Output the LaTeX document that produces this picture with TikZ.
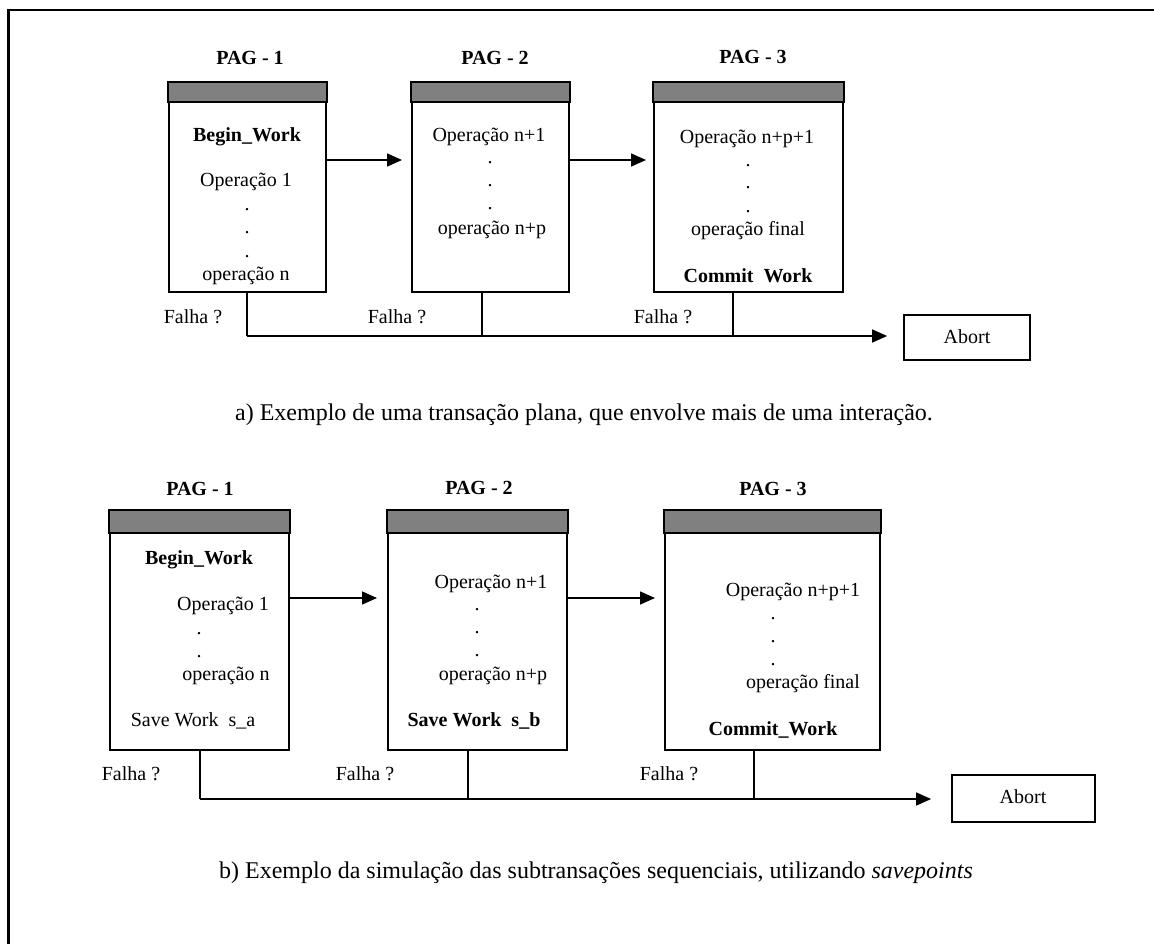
\documentclass[tikz,border=0pt]{standalone}
\usepackage{fontspec}
\setmainfont{Liberation Serif}
\usetikzlibrary{arrows.meta,calc}
\definecolor{headgray}{HTML}{808080}
\begin{document}
\begin{tikzpicture}[x=1pt,y=-1pt,
  pagebox/.style={draw,line width=2pt,rectangle,inner sep=0pt,minimum height=209pt},
  pageboxb/.style={draw,line width=2pt,rectangle,inner sep=0pt,minimum height=239pt},
  abortbox/.style={draw,line width=1.8pt,rectangle,inner sep=0pt},
  lbl/.style={anchor=base,inner sep=0pt,font=\fontsize{20}{24}\selectfont},
  blbl/.style={lbl,font=\fontsize{20}{24}\selectfont\bfseries},
  caption/.style={anchor=base,inner sep=0pt,font=\fontsize{24}{28}\selectfont},
  conn/.style={line width=1.6pt},
  arr/.style={line width=1.6pt,-{Triangle[length=15pt,width=13pt]}}
]
\useasboundingbox (0,0) rectangle (1154,944);
% outer frame (runs past the right and bottom edges)
\draw[line width=2.5pt] (8.5,10) rectangle (1180,970);

% ---------------- part a ----------------
\node[pagebox,minimum width=157pt] (p1) at (247.5,187.5) {};
\node[pagebox,minimum width=157pt] (p2) at (490.5,187.5) {};
\node[pagebox,minimum width=189pt] (p3) at (748.5,187.5) {};
\foreach \p in {p1,p2,p3}
  \filldraw[fill=headgray,line width=2pt] (\p.north west) rectangle ($(\p.north east)+(0,20)$);
\node[abortbox,minimum width=126pt,minimum height=45pt] (ab1) at (967,337.5) {};

\node[blbl] (a1h) at (250,65) {PAG - 1};
\node[blbl] (a2h) at (495,65) {PAG - 2};
\node[blbl] (a3h) at (753,64) {PAG - 3};

\node[blbl] (a1t1) at (247,142) {Begin\_Work};
\node[lbl] (a1t2) at (246,187) {Operação 1};
\node[lbl] (a1d1) at (247,211) {.};
\node[lbl] (a1d2) at (247,234) {.};
\node[lbl] (a1d3) at (247,258) {.};
\node[lbl] (a1t3) at (246,280) {operação n};

\node[lbl] (a2t1) at (489,142) {Operação n+1};
\node[lbl] (a2d1) at (490,164) {.};
\node[lbl] (a2d2) at (490,187) {.};
\node[lbl] (a2d3) at (490,210) {.};
\node[lbl] (a2t2) at (492,235) {operação n+p};

\node[lbl] (a3t1) at (747,144) {Operação n+p+1};
\node[lbl] (a3d1) at (748,167) {.};
\node[lbl] (a3d2) at (748,189) {.};
\node[lbl] (a3d3) at (748,213) {.};
\node[lbl] (a3t2) at (748,236) {operação final};
\node[blbl] (a3t3) at (748,282) {Commit\ \ Work};

\node[lbl] (af1) at (193,323) {Falha ?};
\node[lbl] (af2) at (397,323) {Falha ?};
\node[lbl] (af3) at (663,323) {Falha ?};
\node[lbl] (abt1) at (967,343) {Abort};

\draw[arr,shorten >=9pt] (p1.east |- 0,160) -- (p2.west |- 0,160);
\draw[arr,shorten >=7pt] (p2.east |- 0,160) -- (p3.west |- 0,160);
\coordinate (ja1) at (247,336);
\coordinate (ja2) at (482,336);
\coordinate (ja3) at (733,336);
\draw[conn] (ja1 |- p1.south) -- (ja1);
\draw[conn] (ja2 |- p2.south) -- (ja2);
\draw[conn] (ja3 |- p3.south) -- (ja3);
\draw[arr,shorten >=16pt] (ja1) -- (ab1.west |- ja1);

\node[caption] (capa) at (584,420) {a) Exemplo de uma transação plana, que envolve mais de uma interação.};

% ---------------- part b ----------------
\node[pageboxb,minimum width=179pt] (q1) at (199.5,630.5) {};
\node[pageboxb,minimum width=179pt] (q2) at (477.5,630.5) {};
\node[pageboxb,minimum width=215pt] (q3) at (772.5,630.5) {};
\foreach \p in {q1,q2,q3}
  \filldraw[fill=headgray,line width=2pt] (\p.north west) rectangle ($(\p.north east)+(0,23)$);
\node[abortbox,minimum width=143pt,minimum height=47pt] (ab2) at (1023.5,798.5) {};

\node[blbl] (b1h) at (200,495) {PAG - 1};
\node[blbl] (b2h) at (479,494) {PAG - 2};
\node[blbl] (b3h) at (773,495) {PAG - 3};

\node[blbl] (b1t1) at (199,564) {Begin\_Work};
\node[lbl] (b1t2) at (223,610) {Operação 1};
\node[lbl] (b1d1) at (199,634) {.};
\node[lbl] (b1d2) at (199,657) {.};
\node[lbl] (b1t3) at (226,680) {operação n};
\node[lbl] (b1t4) at (193,726) {Save Work\ \ s\_a};

\node[lbl] (b2t1) at (491,588) {Operação n+1};
\node[lbl] (b2d1) at (477,610) {.};
\node[lbl] (b2d2) at (477,633) {.};
\node[lbl] (b2d3) at (477,656) {.};
\node[lbl] (b2t2) at (493,680) {operação n+p};
\node[blbl] (b2t3) at (474,726) {Save Work\ \ s\_b};

\node[lbl] (b3t1) at (793,596) {Operação n+p+1};
\node[lbl] (b3d1) at (773,619) {.};
\node[lbl] (b3d2) at (773,642) {.};
\node[lbl] (b3d3) at (773,665) {.};
\node[lbl] (b3t2) at (803,688) {operação final};
\node[blbl] (b3t3) at (773,735) {Commit\_Work};

\node[lbl] (bf1) at (131,780) {Falha ?};
\node[lbl] (bf2) at (365,780) {Falha ?};
\node[lbl] (bf3) at (669,780) {Falha ?};
\node[lbl] (abt2) at (1023,803) {Abort};

\draw[arr,shorten >=10pt] (q1.east |- 0,598) -- (q2.west |- 0,598);
\draw[arr,shorten >=9pt] (q2.east |- 0,598) -- (q3.west |- 0,598);
\coordinate (jb1) at (200,799);
\coordinate (jb2) at (468,799);
\coordinate (jb3) at (754,799);
\draw[conn] (jb1 |- q1.south) -- (jb1);
\draw[conn] (jb2 |- q2.south) -- (jb2);
\draw[conn] (jb3 |- q3.south) -- (jb3);
\draw[arr,shorten >=20pt] (jb1) -- (ab2.west |- jb1);

\node[caption] (capb) at (596,878) {b) Exemplo da simulação das subtransações sequenciais, utilizando \textit{savepoints}};
\end{tikzpicture}
\end{document}
